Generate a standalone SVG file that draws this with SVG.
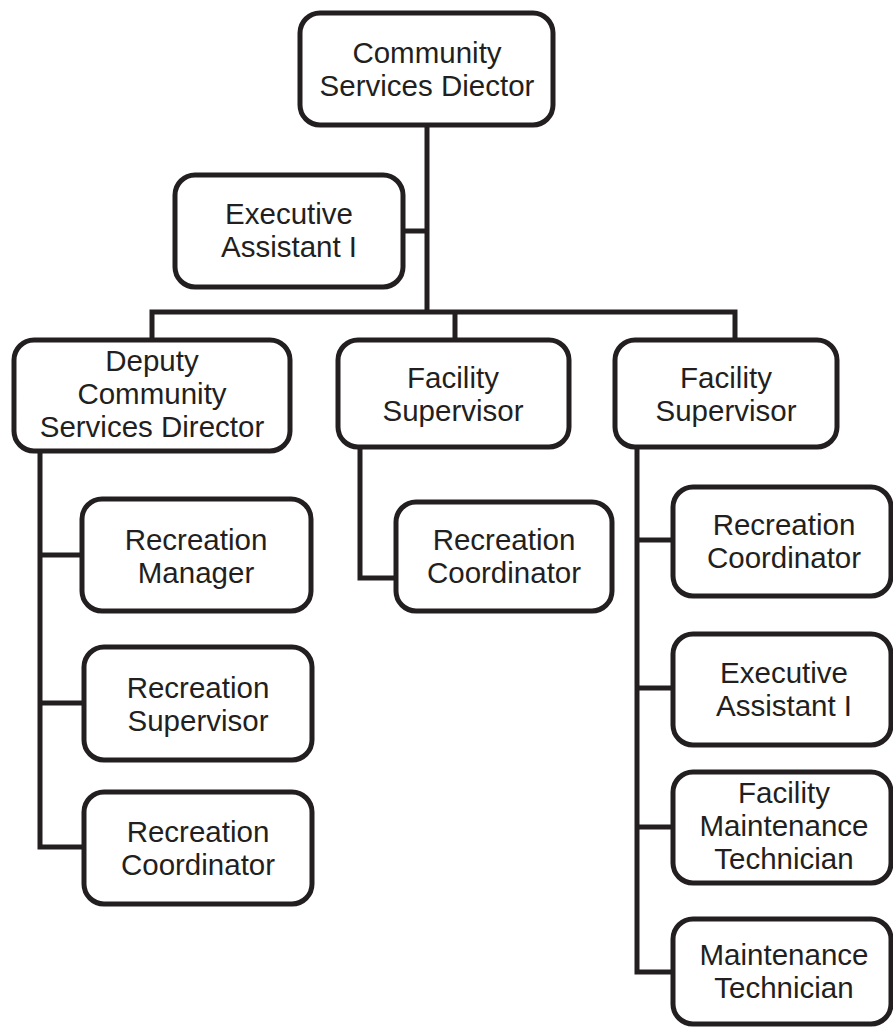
<svg xmlns="http://www.w3.org/2000/svg" width="893" height="1028" viewBox="0 0 893 1028">
  <style>
    .box { fill: #ffffff; stroke: #231f20; stroke-width: 5; }
    .lbl { font-family: "Liberation Sans", Arial, sans-serif; font-size: 29.5px; fill: #231f20; text-anchor: middle; }
    .wire { fill: none; stroke: #231f20; stroke-width: 5; stroke-linejoin: miter; }
  </style>
  <rect width="893" height="1028" fill="#ffffff"/>

  <!-- reporting lines -->
  <g id="connectors">
    <path class="wire" d="M427,125 V312"/>
    <path class="wire" d="M403,231 H427"/>
    <path class="wire" d="M152,340 V312 H735 V340"/>
    <path class="wire" d="M455,312 V340"/>
    <path class="wire" d="M40,451 V847 H84"/>
    <path class="wire" d="M40,555 H82"/>
    <path class="wire" d="M40,703 H84"/>
    <path class="wire" d="M360,447 V578 H396"/>
    <path class="wire" d="M637,447 V972 H673"/>
    <path class="wire" d="M637,540 H673"/>
    <path class="wire" d="M637,688 H673"/>
    <path class="wire" d="M637,827 H673"/>
  </g>

  <!-- multi-line labels: one text per node, lines as tspans -->
  <g id="community-services-director">
    <rect class="box" x="300" y="13" width="253" height="112" rx="20"/>
    <text class="lbl" x="427" y="63"><tspan x="427">Community</tspan><tspan x="427" dy="33">Services Diector</tspan></text>
  </g>

  <g id="executive-assistant-top">
    <rect class="box" x="175" y="175" width="228" height="112" rx="20"/>
    <text class="lbl" x="289" y="224"><tspan x="289">Executive</tspan><tspan x="289" dy="33">Assistant I</tspan></text>
  </g>

  <g id="deputy-director">
    <rect class="box" x="14" y="340" width="276" height="111" rx="20"/>
    <text class="lbl" x="152" y="371"><tspan x="152">Deputy</tspan><tspan x="152" dy="33">Community</tspan><tspan x="152" dy="33">Services Director</tspan></text>
  </g>

  <g id="facility-supervisor-1">
    <rect class="box" x="338" y="340" width="231" height="107" rx="20"/>
    <text class="lbl" x="453" y="388"><tspan x="453">Facility</tspan><tspan x="453" dy="33">Supervisor</tspan></text>
  </g>

  <g id="facility-supervisor-2">
    <rect class="box" x="615" y="340" width="222" height="107" rx="20"/>
    <text class="lbl" x="726" y="388"><tspan x="726">Facility</tspan><tspan x="726" dy="33">Supervisor</tspan></text>
  </g>

  <g id="recreation-manager">
    <rect class="box" x="82" y="499" width="229" height="112" rx="20"/>
    <text class="lbl" x="196" y="550"><tspan x="196">Recreation</tspan><tspan x="196" dy="33">Manager</tspan></text>
  </g>

  <g id="recreation-supervisor">
    <rect class="box" x="84" y="647" width="228" height="113" rx="20"/>
    <text class="lbl" x="198" y="698"><tspan x="198">Recreation</tspan><tspan x="198" dy="33">Supervisor</tspan></text>
  </g>

  <g id="recreation-coordinator-1">
    <rect class="box" x="84" y="792" width="228" height="112" rx="20"/>
    <text class="lbl" x="198" y="842"><tspan x="198">Recreation</tspan><tspan x="198" dy="33">Coordinator</tspan></text>
  </g>

  <g id="recreation-coordinator-2">
    <rect class="box" x="396" y="502" width="216" height="109" rx="20"/>
    <text class="lbl" x="504" y="550"><tspan x="504">Recreation</tspan><tspan x="504" dy="33">Coordinator</tspan></text>
  </g>

  <g id="recreation-coordinator-3">
    <rect class="box" x="673" y="487" width="218" height="109" rx="20"/>
    <text class="lbl" x="784" y="535"><tspan x="784">Recreation</tspan><tspan x="784" dy="33">Coordinator</tspan></text>
  </g>

  <g id="executive-assistant-2">
    <rect class="box" x="673" y="634" width="218" height="111" rx="20"/>
    <text class="lbl" x="784" y="683"><tspan x="784">Executive</tspan><tspan x="784" dy="33">Assistant I</tspan></text>
  </g>

  <g id="facility-maintenance-technician">
    <rect class="box" x="673" y="772" width="218" height="111" rx="20"/>
    <text class="lbl" x="784" y="803"><tspan x="784">Facility</tspan><tspan x="784" dy="33">Maintenance</tspan><tspan x="784" dy="33">Technician</tspan></text>
  </g>

  <g id="maintenance-technician">
    <rect class="box" x="673" y="919" width="218" height="105" rx="20"/>
    <text class="lbl" x="784" y="965"><tspan x="784">Maintenance</tspan><tspan x="784" dy="33">Technician</tspan></text>
  </g>
</svg>
